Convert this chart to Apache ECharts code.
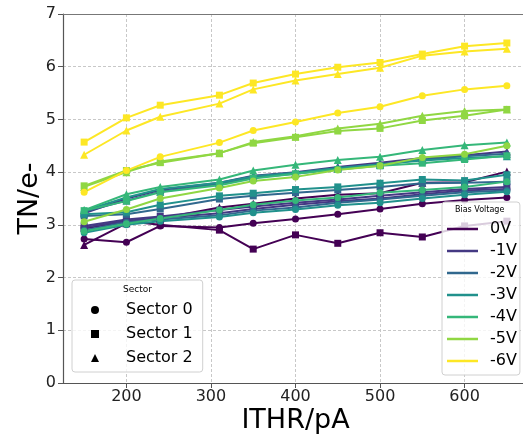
<!DOCTYPE html>
<html>
<head>
<meta charset="utf-8">
<script src="https://cdn.jsdelivr.net/npm/echarts@6/dist/echarts.min.js"></script>
<style>
  html, body { margin: 0; padding: 0; background: #ffffff; }
  #chart { width: 523px; height: 439px; }
</style>
</head>
<body>
<div id="chart"></div>
<script>
// Threshold current settings (pA)
const ithr = [150, 200, 240, 310, 350, 400, 450, 500, 550, 600, 650];
const xTicks = [200, 300, 400, 500, 600];

const biasLabels = ['0V', '-1V', '-2V', '-3V', '-4V', '-5V', '-6V'];
const biasColors = ['#440154', '#443983', '#31688e', '#21918c', '#35b779', '#90d743', '#fde725'];
const sectorLabels = ['Sector 0', 'Sector 1', 'Sector 2'];
const sectorSymbols = ['circle', 'rect', 'triangle'];

// Temporal noise (e-) per bias voltage; rows are sector 0, 1, 2
const tn0V = [
  [2.73, 2.67, 2.98, 2.95, 3.03, 3.11, 3.20, 3.30, 3.40, 3.47, 3.52],
  [2.93, 3.07, 3.00, 2.90, 2.54, 2.81, 2.65, 2.85, 2.77, 2.98, 3.07],
  [2.62, 3.03, 3.12, 3.33, 3.40, 3.50, 3.57, 3.60, 3.80, 3.81, 4.01]
];
const tn1V = [
  [2.95, 3.08, 3.13, 3.22, 3.30, 3.38, 3.45, 3.50, 3.58, 3.65, 3.68],
  [2.98, 3.10, 3.16, 3.28, 3.35, 3.42, 3.48, 3.55, 3.62, 3.68, 3.72],
  [3.22, 3.50, 3.66, 3.80, 3.93, 4.00, 4.10, 4.18, 4.27, 4.32, 4.39]
];
const tn2V = [
  [2.90, 3.05, 3.10, 3.18, 3.27, 3.33, 3.42, 3.48, 3.55, 3.62, 3.65],
  [3.17, 3.20, 3.30, 3.49, 3.55, 3.61, 3.66, 3.72, 3.79, 3.80, 3.82],
  [3.25, 3.46, 3.63, 3.78, 3.90, 3.97, 4.07, 4.14, 4.24, 4.30, 4.35]
];
const tn3V = [
  [2.85, 3.00, 3.07, 3.15, 3.23, 3.29, 3.37, 3.42, 3.50, 3.57, 3.63],
  [3.20, 3.24, 3.38, 3.55, 3.60, 3.67, 3.72, 3.79, 3.86, 3.84, 3.95],
  [3.27, 3.52, 3.68, 3.80, 3.92, 3.99, 4.08, 4.15, 4.22, 4.27, 4.30]
];
const tn4V = [
  [2.88, 3.02, 3.12, 3.28, 3.38, 3.46, 3.52, 3.61, 3.66, 3.72, 3.82],
  [3.27, 3.45, 3.62, 3.75, 3.88, 3.97, 4.05, 4.12, 4.17, 4.24, 4.31],
  [3.28, 3.58, 3.72, 3.86, 4.03, 4.14, 4.23, 4.29, 4.42, 4.51, 4.56]
];
const tn5V = [
  [3.06, 3.29, 3.50, 3.70, 3.83, 3.91, 4.04, 4.12, 4.28, 4.34, 4.50],
  [3.74, 4.03, 4.18, 4.36, 4.55, 4.66, 4.78, 4.83, 4.98, 5.07, 5.19],
  [3.72, 4.00, 4.20, 4.36, 4.57, 4.68, 4.83, 4.92, 5.07, 5.16, 5.19]
];
const tn6V = [
  [3.62, 4.03, 4.29, 4.56, 4.79, 4.95, 5.12, 5.24, 5.45, 5.57, 5.64],
  [4.57, 5.03, 5.27, 5.46, 5.69, 5.86, 5.99, 6.08, 6.24, 6.39, 6.45],
  [4.33, 4.79, 5.05, 5.30, 5.57, 5.74, 5.86, 5.98, 6.21, 6.29, 6.34]
];

const tnByBias = [tn0V, tn1V, tn2V, tn3V, tn4V, tn5V, tn6V];

const FONT = 'DejaVu Sans';
const series = [];

tnByBias.forEach((sectors, b) => {
  sectors.forEach((vals, s) => {
    series.push({
      type: 'line',
      name: biasLabels[b],
      data: ithr.map((x, i) => [x, vals[i]]),
      symbol: sectorSymbols[s],
      symbolSize: s === 2 ? 8 : 7,
      showSymbol: true,
      color: biasColors[b],
      lineStyle: { width: 2, color: biasColors[b] },
      itemStyle: { color: biasColors[b] },
      emphasis: { disabled: true },
      animation: false,
      z: 2
    });
  });
});

// Marker-only entries for the sector legend
sectorLabels.forEach((name, s) => {
  series.push({
    type: 'line',
    name: name,
    data: [],
    symbol: sectorSymbols[s],
    color: '#000000',
    itemStyle: { color: '#000000' },
    lineStyle: { width: 0 },
    animation: false
  });
});

const chart = echarts.init(document.getElementById('chart'), null, { renderer: 'canvas' });

chart.setOption({
  animation: false,
  backgroundColor: '#ffffff',
  textStyle: { fontFamily: FONT },
  grid: { left: 63, top: 14, right: -5, bottom: 56, containLabel: false, outerBoundsMode: 'none' },
  xAxis: [{
    type: 'value',
    min: 125,
    max: 675,
    name: 'ITHR/pA',
    nameLocation: 'middle',
    nameGap: 24,
    nameMoveOverlap: false,
    nameTextStyle: { fontFamily: FONT, fontSize: 27, color: '#000' },
    axisLine: { show: true, lineStyle: { color: '#555', width: 1.2 } },
    axisTick: { show: true, customValues: xTicks, length: 5, lineStyle: { color: '#555' } },
    axisLabel: { customValues: xTicks, fontFamily: FONT, fontSize: 16, color: '#222', margin: 6 },
    splitLine: { show: true, lineStyle: { color: '#c8c8c8', type: [3, 2], width: 1 } }
  }, {
    type: 'value',
    position: 'top',
    min: 125,
    max: 675,
    axisLine: { show: true, onZero: false, lineStyle: { color: '#777', width: 1.2 } },
    axisTick: { show: false },
    axisLabel: { show: false },
    splitLine: { show: false }
  }],
  yAxis: {
    type: 'value',
    min: 0,
    max: 7,
    interval: 1,
    name: 'TN/e-',
    nameLocation: 'middle',
    nameRotate: 90,
    nameGap: 20,
    nameMoveOverlap: false,
    nameTextStyle: { fontFamily: FONT, fontSize: 27, color: '#000' },
    axisLine: { show: true, lineStyle: { color: '#555', width: 1.2 } },
    axisTick: { show: true, length: 5, lineStyle: { color: '#555' } },
    axisLabel: { fontFamily: FONT, fontSize: 16, color: '#222', margin: 7 },
    splitLine: { show: true, lineStyle: { color: '#c8c8c8', type: [3, 2], width: 1 } }
  },
  legend: [{
    orient: 'vertical',
    left: 72,
    top: 280,
    padding: [22, 10, 6, 19],
    itemGap: 8,
    itemWidth: 8,
    itemHeight: 8,
    selectedMode: false,
    backgroundColor: 'rgba(255,255,255,0.8)',
    borderColor: '#d0d0d0',
    borderWidth: 1,
    borderRadius: 3,
    textStyle: { fontFamily: FONT, fontSize: 16, color: '#000', lineHeight: 16, padding: [0, 0, 0, 22] },
    data: sectorLabels.map((n, s) => ({ name: n, icon: sectorSymbols[s] })),
    z: 10
  }, {
    orient: 'vertical',
    left: 442,
    top: 202,
    padding: [19, 3, 6, 5],
    itemGap: 6,
    itemWidth: 31,
    itemHeight: 2.5,
    selectedMode: false,
    backgroundColor: 'rgba(255,255,255,0.8)',
    borderColor: '#d0d0d0',
    borderWidth: 1,
    borderRadius: 3,
    textStyle: { fontFamily: FONT, fontSize: 16, color: '#000', lineHeight: 16, padding: [0, 0, 0, 7] },
    data: biasLabels.map(n => ({ name: n, icon: 'rect' })),
    z: 10
  }],
  graphic: [{
    type: 'text',
    left: 123,
    top: 285,
    z: 100,
    style: { text: 'Sector', font: '9px "DejaVu Sans"', fill: '#000' }
  }, {
    type: 'text',
    left: 455,
    top: 206,
    z: 100,
    style: { text: 'Bias Voltage', font: '8px "DejaVu Sans"', fill: '#000' }
  }],
  series: series
});
</script>
</body>
</html>
